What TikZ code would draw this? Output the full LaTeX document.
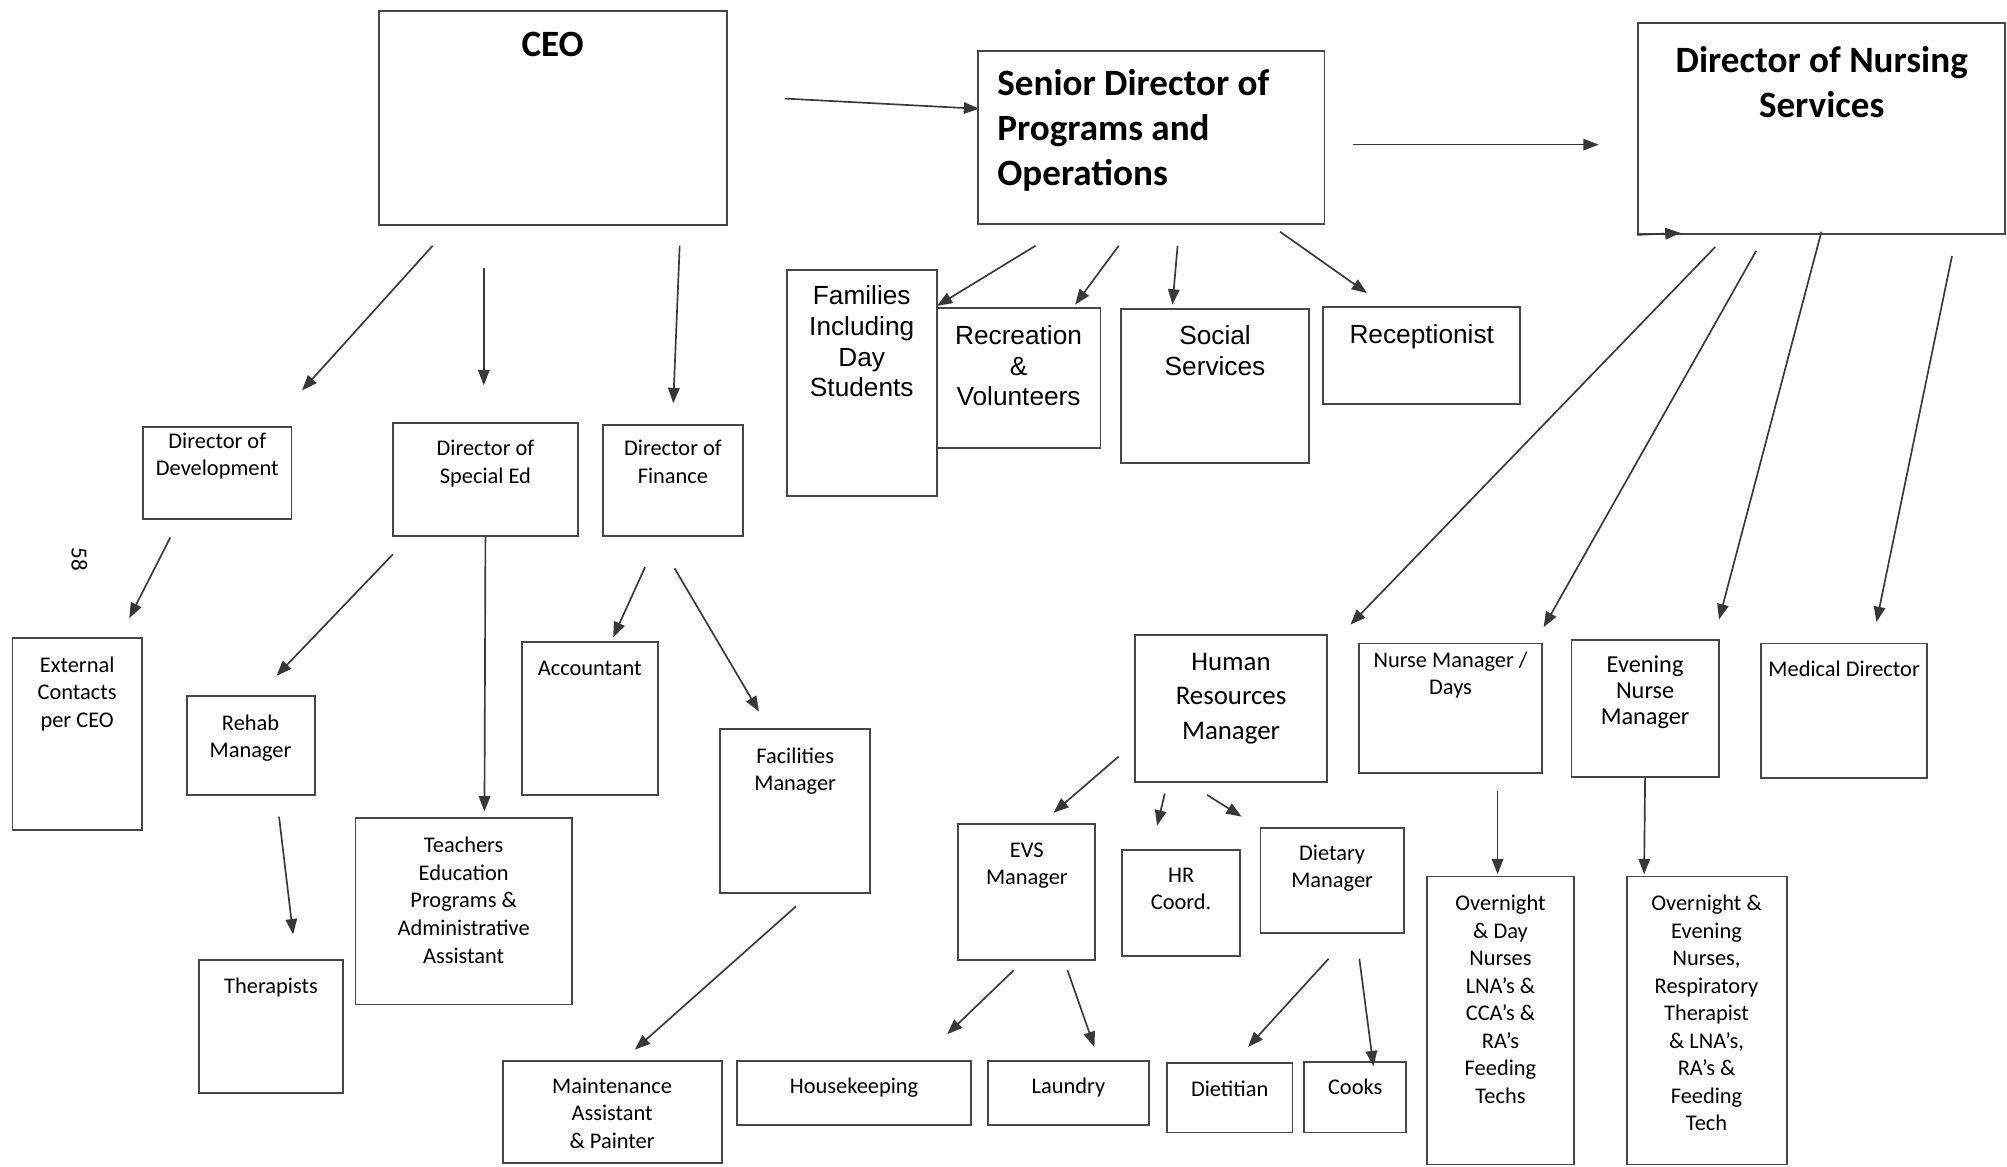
\documentclass[tikz,border=0pt]{standalone}
\usepackage{fontspec}
\setmainfont{Carlito}
\newfontfamily\arialfont{Liberation Sans}
\usetikzlibrary{arrows.meta,positioning}

\tikzset{
  box/.style={draw=black!72, line width=1.5pt, rectangle, inner sep=0pt, anchor=north west},
  sm/.style={align=center, inner sep=0pt, font=\fontsize{17.5}{21.5}\selectfont},
  ar/.style={align=center, inner sep=0pt, font=\arialfont\fontsize{20.5}{24}\selectfont},
  big/.style={align=center, inner sep=0pt, font=\bfseries\fontsize{29}{35}\selectfont},
  arr/.style={draw=black!78, line width=1.3pt, -{Triangle[length=12pt,width=9pt]}}
}

\begin{document}
\begin{tikzpicture}[x=1pt, y=-1pt]
\useasboundingbox (0,0) rectangle (1568,911);

% top level
\node[box, minimum width=272, minimum height=167] (ceo) at (295,8) {};
\node[big, below=17pt of ceo.north] (ceo-t) {CEO};
\node[box, minimum width=271, minimum height=135] (sen) at (763,39) {};
\node[big, align=left, below right=15pt and 16pt of sen.north west] (sen-t) {Senior Director of\\Programs and\\Operations};
\node[box, minimum width=287, minimum height=165] (nur) at (1279,17) {};
\node[big, below=19pt of nur.north] (nur-t) {Director of Nursing\\Services};

% programs and operations
\node[box, minimum width=117, minimum height=177] (fam) at (614,210) {};
\node[ar, below=13pt of fam.north] (fam-t) {Families\\Including\\Day\\Students};
\node[box, minimum width=128, minimum height=109] (rec) at (731,240) {};
\node[ar, below=14pt of rec.north] (rec-t) {Recreation\\\&\\Volunteers};
\node[box, minimum width=147, minimum height=120] (soc) at (875,241) {};
\node[ar, below=13pt of soc.north] (soc-t) {Social\\Services};
\node[box, minimum width=154, minimum height=76] (rcp) at (1033,239) {};
\node[ar, below=14pt of rcp.north] (rcp-t) {Receptionist};

% CEO side
\node[box, minimum width=116, minimum height=72] (dev) at (111,333) {};
\node[sm, below=5pt of dev.north] (dev-t) {Director of\\Development};
\node[box, minimum width=145, minimum height=88] (spe) at (306,330) {};
\node[sm, below=14pt of spe.north] (spe-t) {Director of\\Special Ed};
\node[box, minimum width=110, minimum height=87] (fin) at (470,331) {};
\node[sm, below=13pt of fin.north] (fin-t) {Director of\\Finance};
\node[box, minimum width=101, minimum height=150] (ext) at (9,498) {};
\node[sm, below=15pt of ext.north] (ext-t) {External\\Contacts\\per CEO};
\node[box, minimum width=100, minimum height=77] (reh) at (145,543) {};
\node[sm, below=15pt of reh.north] (reh-t) {Rehab\\Manager};
\node[box, minimum width=106, minimum height=119] (acc) at (407,501) {};
\node[sm, below=15pt of acc.north] (acc-t) {Accountant};
\node[box, minimum width=117, minimum height=128] (fac) at (562,569) {};
\node[sm, below=15pt of fac.north] (fac-t) {Facilities\\Manager};
\node[box, minimum width=169, minimum height=146] (tea) at (277,638) {};
\node[sm, below=16pt of tea.north] (tea-t) {Teachers\\Education\\Programs \&\\Administrative\\Assistant};
\node[box, minimum width=112, minimum height=104] (the) at (155,749) {};
\node[sm, below=15pt of the.north] (the-t) {Therapists};
\node[box, minimum width=171, minimum height=80] (mai) at (392,828) {};
\node[sm, below=14pt of mai.north] (mai-t) {Maintenance\\Assistant\\\& Painter};

% human resources
\node[box, minimum width=150, minimum height=115] (hr) at (886,495) {};
\node[sm, font=\fontsize{21}{27}\selectfont, below=15pt of hr.north] (hr-t) {Human\\Resources\\Manager};
\node[box, minimum width=107, minimum height=106] (evs) at (748,643) {};
\node[sm, below=15pt of evs.north] (evs-t) {EVS\\Manager};
\node[box, minimum width=92, minimum height=83] (hrc) at (876,663) {};
\node[sm, below=15pt of hrc.north] (hrc-t) {HR\\Coord.};
\node[box, minimum width=112, minimum height=82] (dm) at (984,646) {};
\node[sm, below=14pt of dm.north] (dm-t) {Dietary\\Manager};
\node[box, minimum width=183, minimum height=50] (hk) at (575,828) {};
\node[sm, below=14pt of hk.north] (hk-t) {Housekeeping};
\node[box, minimum width=126, minimum height=50] (lau) at (771,828) {};
\node[sm, below=14pt of lau.north] (lau-t) {Laundry};
\node[box, minimum width=98, minimum height=54] (dt) at (911,830) {};
\node[sm, below=14pt of dt.north] (dt-t) {Dietitian};
\node[box, minimum width=80, minimum height=55] (ck) at (1018,829) {};
\node[sm, below=14pt of ck.north] (ck-t) {Cooks};

% nursing
\node[box, minimum width=143, minimum height=101] (nmd) at (1061,502) {};
\node[sm, below=7pt of nmd.north] (nmd-t) {Nurse Manager /\\Days};
\node[box, minimum width=115, minimum height=107] (enm) at (1227,499) {};
\node[sm, font=\fontsize{19}{20.5}\selectfont, below=13pt of enm.north] (enm-t) {Evening\\Nurse\\Manager};
\node[box, minimum width=130, minimum height=105] (med) at (1375,502) {};
\node[sm, below=14pt of med.north] (med-t) {Medical Director};
\node[box, minimum width=115, minimum height=225] (ond) at (1114,684) {};
\node[sm, below=15pt of ond.north] (ond-t) {Overnight\\\& Day\\Nurses\\LNA’s \&\\CCA’s \&\\RA’s\\Feeding\\Techs};
\node[box, minimum width=125, minimum height=225] (one) at (1270,684) {};
\node[sm, below=15pt of one.north] (one-t) {Overnight \&\\Evening\\Nurses,\\Respiratory\\Therapist\\\& LNA’s,\\RA’s \&\\Feeding\\Tech};

\node[rotate=-90, inner sep=0pt, font=\fontsize{18}{20}\selectfont] (pg) at (62,437) {58};

% arrow ends
\coordinate (a1) at (613,77);   \coordinate (b1) at (765,85);
\coordinate (a2) at (1057,113); \coordinate (b2) at (1249,113);
\coordinate (b3) at (1313,182);
\coordinate (a4) at (338,192);  \coordinate (b4) at (236,305);
\coordinate (a5) at (378,209);  \coordinate (b5) at (378,301);
\coordinate (a6) at (531,192);  \coordinate (b6) at (526,315);
\coordinate (a7) at (809,192);  \coordinate (b7) at (732,239);
\coordinate (a8) at (874,192);  \coordinate (b8) at (840,238);
\coordinate (a9) at (920,192);  \coordinate (b9) at (916,238);
\coordinate (a10) at (1000,181); \coordinate (b10) at (1068,229);
\coordinate (a11) at (1340,193); \coordinate (b11) at (1055,488);
\coordinate (a12) at (1372,196); \coordinate (b12) at (1206,490);
\coordinate (a13) at (1423,181); \coordinate (b13) at (1343,484);
\coordinate (a14) at (1525,200); \coordinate (b14) at (1466,486);
\coordinate (a15) at (133,420);  \coordinate (b15) at (101,483);
\coordinate (a16) at (307,433);  \coordinate (b16) at (216,528);
\coordinate (b17) at (378.5,634);
\coordinate (a18) at (504,443);  \coordinate (b18) at (479,498);
\coordinate (a19) at (527,444);  \coordinate (b19) at (593,556);
\coordinate (a20) at (218,638);  \coordinate (b20) at (229,730);
\coordinate (a21) at (622,708);  \coordinate (b21) at (496,820);
\coordinate (a22) at (874,591);  \coordinate (b22) at (823,635);
\coordinate (a23) at (910,620);  \coordinate (b23) at (904,645);
\coordinate (a24) at (943,621);  \coordinate (b24) at (970,638);
\coordinate (a25) at (792,758);  \coordinate (b25) at (740,808);
\coordinate (a26) at (834,758);  \coordinate (b26) at (855,818);
\coordinate (a27) at (1038,749); \coordinate (b27) at (975,818);
\coordinate (a28) at (1062,749); \coordinate (b28) at (1073,833);
\coordinate (a29) at (1170,618); \coordinate (b29) at (1170,683);
\coordinate (b30) at (1284.5,683);

% connectors
\draw[arr] (a1) -- (b1);
\draw[arr] (a2) -- (b2);
\draw[arr] (nur.south west) -- (b3);
\foreach \i in {4,...,16} \draw[arr] (a\i) -- (b\i);
\draw[arr] (spe.south) -- (b17);
\foreach \i in {18,...,29} \draw[arr] (a\i) -- (b\i);
\draw[arr] (enm.south) -- (b30);
\end{tikzpicture}
\end{document}
